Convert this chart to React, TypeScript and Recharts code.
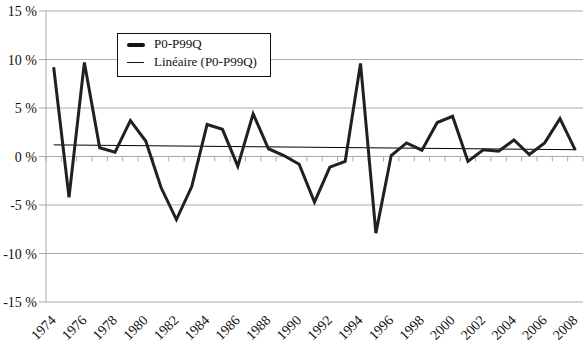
import React from 'react';
import { LineChart, Line, XAxis, YAxis, CartesianGrid, ReferenceLine } from 'recharts';

const years = ['1974','1975','1976','1977','1978','1979','1980','1981','1982','1983','1984','1985','1986','1987','1988','1989','1990','1991','1992','1993','1994','1995','1996','1997','1998','1999','2000','2001','2002','2003','2004','2005','2006','2007','2008'];
const growth = [9.2, -4.2, 9.7, 0.9, 0.45, 3.7, 1.6, -3.2, -6.5, -3.1, 3.3, 2.8, -1.0, 4.4, 0.8, 0.1, -0.8, -4.7, -1.1, -0.5, 9.6, -7.9, 0.1, 1.4, 0.65, 3.5, 4.15, -0.5, 0.7, 0.55, 1.7, 0.2, 1.4, 3.9, 0.65];
const trendEnds = [1.2, 0.7];
const yTicks = [-15, -10, -5, 0, 5, 10, 15];
const seriesName = 'P0-P99Q';
const trendName = 'Linéaire (P0-P99Q)';

const data = years.map((y, i) => ({
  year: y,
  value: growth[i],
  trend: i === 0 ? trendEnds[0] : i === years.length - 1 ? trendEnds[1] : null,
}));

const FONT = "'Times New Roman', 'Liberation Serif', Tinos, serif";
const GRID = '#ababab';
const INK = '#111111';

const XTick = (props: any) => {
  const { x, y, payload } = props;
  const ax = x + 3;
  const ay = y + 19;
  return (
    <text x={ax} y={ay} transform={`rotate(-45, ${ax}, ${ay})`} textAnchor="end" fontSize={14} style={{ fontFamily: FONT }} fill={INK}>
      {payload.value}
    </text>
  );
};

const YTick = (props: any) => {
  const { x, y, payload } = props;
  return (
    <text x={x} y={y} dy={5} textAnchor="end" fontSize={14} style={{ fontFamily: FONT }} fill={INK}>
      {`${payload.value} %`}
    </text>
  );
};

const ZeroLine = (props: any) => {
  const { x1, y1, x2 } = props;
  const n = years.length;
  const step = (x2 - x1) / n;
  const ticks = [] as any[];
  for (let i = 0; i <= n; i++) {
    const tx = x1 + step * i;
    ticks.push(<line key={i} x1={tx} x2={tx} y1={y1} y2={y1 + 5} stroke={GRID} strokeWidth={1} />);
  }
  return (
    <g>
      <line x1={x1} x2={x2} y1={y1} y2={y1} stroke={GRID} strokeWidth={1} />
      {ticks}
    </g>
  );
};

const LegendBox = () => (
  <div style={{ position: 'absolute', left: 117, top: 33, width: 152, height: 42, border: '1px solid #111', background: '#fff', fontFamily: FONT, fontSize: 13, color: INK }}>
    <div style={{ position: 'absolute', left: 9, top: 9, width: 18, height: 4, background: INK, borderRadius: 2 }} />
    <div style={{ position: 'absolute', left: 36, top: 2, lineHeight: '16px', whiteSpace: 'nowrap' }}>{seriesName}</div>
    <div style={{ position: 'absolute', left: 9, top: 28, width: 17, height: 1, background: INK }} />
    <div style={{ position: 'absolute', left: 36, top: 20, lineHeight: '16px', whiteSpace: 'nowrap' }}>{trendName}</div>
  </div>
);

export default function App() {
  return (
    <div style={{ position: 'absolute', left: 0, top: 0, width: 585, height: 347, background: '#fff' }}>
      <LineChart width={585} height={347} data={data} margin={{ top: 11, right: 2, bottom: 0, left: 0 }}>
        <CartesianGrid horizontal vertical={false} stroke={GRID} strokeWidth={1} />
        <XAxis dataKey="year" scale="band" axisLine={false} tickLine={false} tickSize={0} tickMargin={0} interval={1} height={45} tick={<XTick />} />
        <YAxis
          domain={[-15, 15]}
          ticks={yTicks}
          width={46}
          axisLine={{ stroke: GRID }}
          tickLine={{ stroke: GRID }}
          tickSize={7}
          tickMargin={2}
          tick={<YTick />}
        />
        <ReferenceLine y={0} shape={<ZeroLine />} ifOverflow="visible" />
        <Line type="linear" dataKey="trend" name={trendName} stroke="#000" strokeWidth={1} dot={false} connectNulls isAnimationActive={false} />
        <Line type="linear" dataKey="value" name={seriesName} stroke="#231f20" strokeWidth={3} dot={false} isAnimationActive={false} />
      </LineChart>
      <LegendBox />
    </div>
  );
}
